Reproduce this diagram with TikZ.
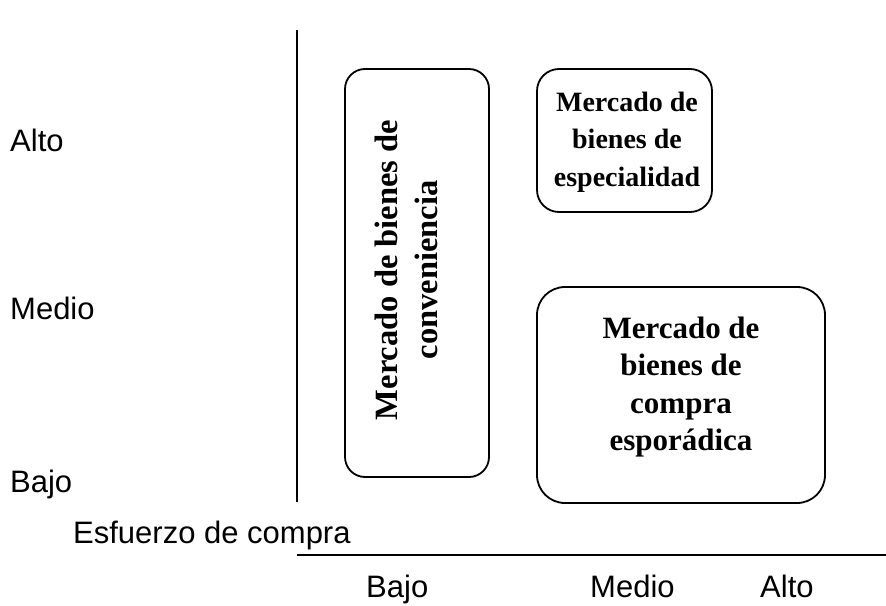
\documentclass[tikz,border=0pt]{standalone}
\usepackage{fontspec}
\setmainfont{Liberation Serif}
\newfontfamily\axisfont{Liberation Sans}
\begin{document}
\begin{tikzpicture}[x=1pt,y=-1pt,
  box/.style={draw,line width=1.8pt,rounded corners=22pt},
  boxtext/.style={font=\fontsize{31}{37.5}\selectfont\bfseries,align=center,inner sep=0pt},
  axislabel/.style={font=\axisfont\fontsize{31}{36}\selectfont,inner sep=0pt},
  axisline/.style={line width=1.6pt}]
\useasboundingbox (0,0) rectangle (886,605);
% axes
\coordinate (vtop) at (297,30);
\coordinate (vbot) at (297,502);
\coordinate (hleft) at (297,555);
\coordinate (hright) at (886,555);
\draw[axisline] (vtop) -- (vbot);
\draw[axisline] (hleft) -- (hright);
% vertical axis labels
\node[axislabel,anchor=base west] (yalto) at (10,151) {Alto};
\node[axislabel,anchor=base west] (ymedio) at (10,319) {Medio};
\node[axislabel,anchor=base west] (ybajo) at (10,492) {Bajo};
% horizontal axis
\node[axislabel,anchor=base west] (xtitle) at (73,543) {Esfuerzo de compra};
\node[axislabel,anchor=base west] (xbajo) at (366,597) {Bajo};
\node[axislabel,anchor=base west] (xmedio) at (590,597) {Medio};
\node[axislabel,anchor=base west] (xalto) at (760,597) {Alto};
% boxes
\draw[box,rounded corners=20pt] (345,69) rectangle (489,477);
\node[boxtext,rotate=90,font=\fontsize{32.5}{40}\selectfont\bfseries] (conv) at (406,270) {Mercado de bienes de\\conveniencia};
\draw[box] (537,69) rectangle (712,212);
\node[boxtext,font=\fontsize{28}{37.5}\selectfont\bfseries] (espec) at (627,142) {Mercado de\\bienes de\\especialidad};
\draw[box,rounded corners=28pt] (537,287) rectangle (825,503);
\node[boxtext] (espor) at (681,387) {Mercado de\\bienes de\\compra\\esporádica};
\end{tikzpicture}
\end{document}
